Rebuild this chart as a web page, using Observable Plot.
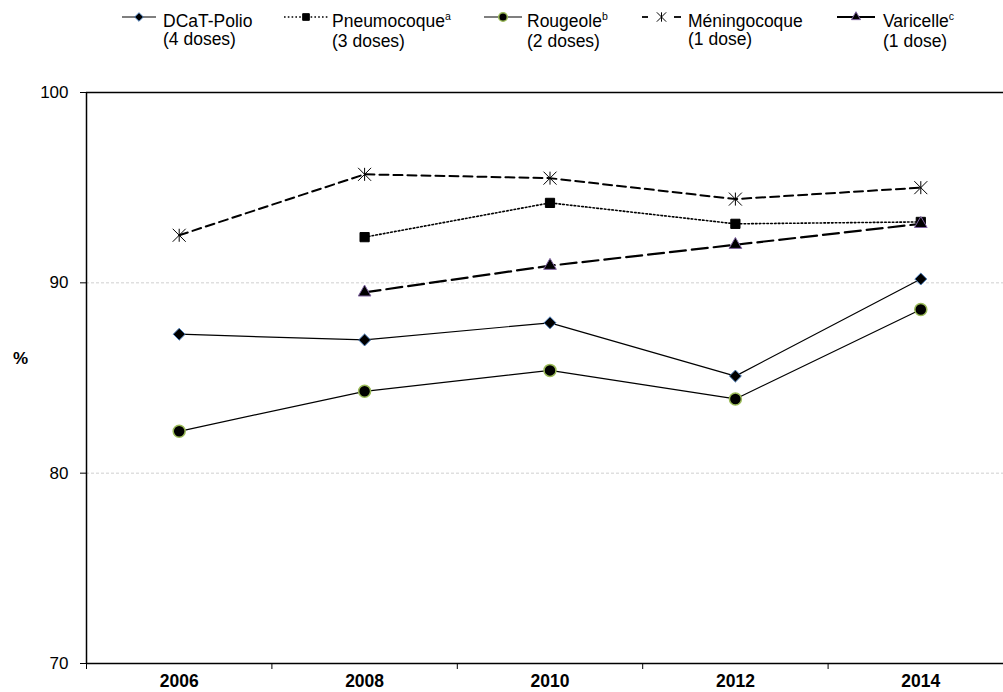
<!DOCTYPE html>
<html><head><meta charset="utf-8">
<script src="https://cdn.jsdelivr.net/npm/d3@7"></script>
<script src="https://cdn.jsdelivr.net/npm/@observablehq/plot@0.6"></script>
<style>
body{margin:0;background:#fff;overflow:hidden;font-family:"Liberation Sans",Arial,Helvetica,sans-serif;}
#legend{position:relative;height:60px;width:1003px;}
.item{position:absolute;top:12px;font-size:17.5px;line-height:18px;color:#000;white-space:nowrap;}
.sample{position:absolute;top:7px;overflow:visible;}
sup{font-size:10.5px;vertical-align:0;position:relative;top:-7px;}
#chart svg{overflow:hidden;}
</style></head><body>
<div id="legend"></div><div id="chart"></div>
<script>
// ---- data ----
const years = [2006, 2008, 2010, 2012, 2014];
const dcatPolio    = [87.3, 87.0, 87.9, 85.1, 90.2];
const pneumocoque  = [null, 92.4, 94.2, 93.1, 93.2];
const rougeole     = [82.2, 84.3, 85.4, 83.9, 88.6];
const meningocoque = [92.5, 95.7, 95.5, 94.4, 95.0];
const varicelle    = [null, 89.5, 90.9, 92.0, 93.1];
const seriesNames = ["DCaT-Polio", "Pneumocoque", "Rougeole", "Méningocoque", "Varicelle"];
const seriesNotes = ["", "a", "b", "", "c"];
const seriesDoses = ["(4 doses)", "(3 doses)", "(2 doses)", "(1 dose)", "(1 dose)"];
const yTicks = [70, 80, 90, 100];
const yDomain = [70, 100];
const yLabel = "%";

// ---- styles ----
const excelStar = {
  draw(ctx, size) {
    const r = Math.sqrt(size / Math.PI);
    ctx.moveTo(-r, -r); ctx.lineTo(r, r);
    ctx.moveTo(-r, r); ctx.lineTo(r, -r);
    ctx.moveTo(0, -r); ctx.lineTo(0, r);
  }
};
const styles = [
  {lw: 1.2, dash: null,      sym: "diamond2", d3sym: d3.symbolDiamond2, r: 5.4, fill: "black", ms: "#4f81bd", msw: 1, legSegs: null, legDash: null, legW: 1.2},
  {lw: 1.6, dash: "1.6,2.2", sym: "square",   d3sym: d3.symbolSquare,   r: 5.2, fill: "black", ms: "black",   msw: 1, legSegs: null, legDash: "1.6,2.2", legW: 1.6},
  {lw: 1.2, dash: null,      sym: "circle",   d3sym: d3.symbolCircle,   r: 6,   fill: "black", ms: "#9bbb59", msw: 1.5, legSegs: null, legDash: null, legW: 1.2},
  {lw: 2,   dash: "9,5",     sym: excelStar,  d3sym: excelStar,         r: 6.5, fill: "none",  ms: "black",   msw: 1, legSegs: [[0, 6], [32, 39]], legDash: null, legW: 1.8},
  {lw: 2.2, dash: "16,6",    sym: "triangle", d3sym: d3.symbolTriangle, r: 4.7, fill: "black", ms: "#8064a2", msw: 1, legSegs: null, legDash: null, legW: 1.8}
];
const legendPos = [
  {x0: 122, x1: 156, tx: 163},
  {x0: 284, x1: 328, tx: 332},
  {x0: 484, x1: 522, tx: 527},
  {x0: 642, x1: 681, tx: 688},
  {x0: 837, x1: 875, tx: 883}
];

const allSeries = [dcatPolio, pneumocoque, rougeole, meningocoque, varicelle];
const rows = allSeries.map((vals, i) =>
  years.map((yr, j) => ({year: yr, value: vals[j], series: seriesNames[i]})).filter(d => d.value != null));

// ---- legend ----
const legend = document.getElementById("legend");
seriesNames.forEach((name, i) => {
  const s = styles[i], p = legendPos[i];
  const w = p.x1 - p.x0;
  const svg = d3.create("svg").attr("class", "sample")
    .attr("width", w).attr("height", 20)
    .style("left", p.x0 + "px");
  const segs = s.legSegs || [[0, w]];
  segs.forEach(([a, b]) => {
    const line = svg.append("line").attr("x1", a).attr("x2", b).attr("y1", 10).attr("y2", 10)
      .attr("stroke", "black").attr("stroke-width", s.legW);
    if (s.legDash) line.attr("stroke-dasharray", s.legDash);
  });
  const size = Math.PI * (s.r * 0.72) ** 2;
  svg.append("path").attr("d", d3.symbol(s.d3sym, size)())
    .attr("transform", `translate(${w / 2},10)`)
    .attr("fill", s.fill).attr("stroke", s.ms).attr("stroke-width", s.msw);
  legend.appendChild(svg.node());
  const div = document.createElement("div");
  div.className = "item";
  div.style.left = p.tx + "px";
  div.innerHTML = name + (seriesNotes[i] ? `<sup>${seriesNotes[i]}</sup>` : "") + "<br>" + seriesDoses[i];
  legend.appendChild(div);
});

// ---- chart ----
const marks = [
  Plot.gridY([80, 90], {stroke: "#cfcfcf", strokeOpacity: 1, strokeDasharray: "3,2"}),
  Plot.ruleY([yDomain[1]], {stroke: "black", strokeWidth: 1.5}),
  Plot.ruleY([yDomain[0]], {stroke: "black", strokeWidth: 1.5}),
  Plot.ruleX([years[0] - 1], {stroke: "black", strokeWidth: 1.5}),
  Plot.axisY({ticks: yTicks, tickSize: 6, tickPadding: 12, fontSize: 17, label: null, tickFormat: d => String(d)}),
  Plot.axisX({ticks: years.map(y => y - 1), tickSize: 6, tickFormat: () => "", label: null}),
  Plot.axisX({ticks: years, tickSize: 0, tickPadding: 11.5, fontSize: 17.5, fontWeight: "bold", label: null, tickFormat: d => String(d)}),
  Plot.text([yLabel], {frameAnchor: "left", dx: -66, dy: -19.5, fontWeight: "bold", fontSize: 17, textAnchor: "middle"})
];
rows.forEach((data, i) => {
  const s = styles[i];
  marks.push(Plot.line(data, {x: "year", y: "value", stroke: "black", strokeWidth: s.lw, strokeDasharray: s.dash || undefined}));
});
rows.forEach((data, i) => {
  const s = styles[i];
  marks.push(Plot.dot(data, {x: "year", y: "value", symbol: () => s.sym, r: s.r, fill: s.fill, stroke: s.ms, strokeWidth: s.msw}));
});

const chart = Plot.plot({
  width: 1003,
  height: 632,
  marginLeft: 86,
  marginRight: -10,
  marginTop: 32,
  marginBottom: 29,
  style: {fontFamily: '"Liberation Sans", Arial, Helvetica, sans-serif', color: "black", background: "white"},
  x: {domain: [years[0] - 1, years[years.length - 1] + 1], axis: null},
  y: {domain: yDomain, axis: null},
  symbol: {type: "identity"},
  marks
});
document.getElementById("chart").appendChild(chart);
</script>
</body></html>
